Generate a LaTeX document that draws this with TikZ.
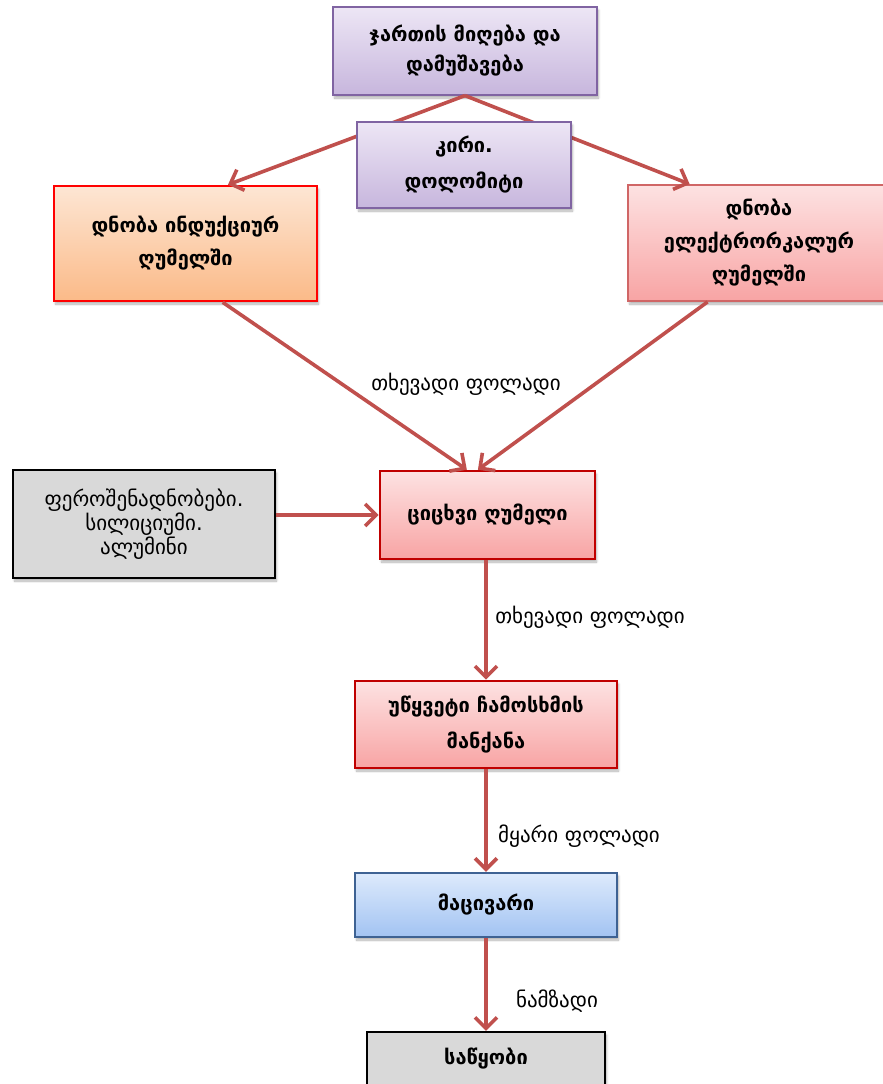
\documentclass[tikz,border=0pt]{standalone}
\usepackage{fontspec}
\setmainfont{DejaVu Sans}
\usetikzlibrary{arrows.meta,shadows.blur,calc}
\definecolor{arr}{HTML}{C0504D}
\definecolor{purpB}{HTML}{8064A2}
\definecolor{purpT}{HTML}{EDE6F5}
\definecolor{purpM}{HTML}{C7B6DD}
\definecolor{oranT}{HTML}{FDE6D4}
\definecolor{oranB}{HTML}{FBBA88}
\definecolor{pinkT}{HTML}{FDE2E2}
\definecolor{pinkB}{HTML}{F8A4A4}
\definecolor{pinkD}{HTML}{D06666}
\definecolor{darkred}{HTML}{C00000}
\definecolor{blueT}{HTML}{DDEAFC}
\definecolor{blueB}{HTML}{A2C3F2}
\definecolor{blueD}{HTML}{3E6293}
\definecolor{greyF}{HTML}{D9D9D9}
\begin{document}
\begin{tikzpicture}[x=1pt,y=-1pt,
  box/.style={rectangle, inner sep=0pt, align=center,
    blur shadow={shadow xshift=1.5pt, shadow yshift=-3pt, shadow opacity=30, shadow blur steps=6}},
  btxt/.style={font=\bfseries\fontsize{20}{#1}\selectfont},
  purple/.style={box, draw=purpB, line width=1.2pt, top color=purpT, bottom color=purpM},
  orange/.style={box, draw=red, line width=2.6pt, top color=oranT, bottom color=oranB},
  pinklt/.style={box, draw=pinkD, line width=1.8pt, top color=pinkT, bottom color=pinkB},
  pinkdk/.style={box, draw=darkred, line width=2.6pt, top color=pinkT, bottom color=pinkB},
  bluebox/.style={box, draw=blueD, line width=2.4pt, top color=blueT, bottom color=blueB},
  greybox/.style={box, draw=black, line width=2.2pt, fill=greyF},
  conn/.style={draw=arr, line width=3.6pt, -{Straight Barb[length=11pt,width=22pt,line width=3.6pt]}},
  lbl/.style={font=\fontsize{21}{24}\selectfont, inner sep=0pt}
]
\useasboundingbox (0,0) rectangle (883,1084);
\clip (0,0) rectangle (883,1084);

\node[purple, btxt=30, minimum width=264pt, minimum height=88pt] (b1) at (465,51) {ჯართის მიღება და\\დამუშავება};
\node[orange, btxt=33, minimum width=263pt, minimum height=115pt] (b3) at (185.5,243.5) {დნობა ინდუქციურ\\ღუმელში};
\node[pinklt, btxt=33, minimum width=262pt, minimum height=116pt] (b4) at (759,243) {დნობა\\ელექტრორკალურ\\ღუმელში};
\node[greybox, font=\fontsize{21}{24}\selectfont, minimum width=262pt, minimum height=108pt] (b5) at (144,524) {ფეროშენადნობები.\\სილიციუმი.\\ალუმინი};
\node[pinkdk, btxt=33, minimum width=215pt, minimum height=88pt] (b6) at (487.5,515) {ციცხვი ღუმელი};
\node[pinkdk, btxt=36, minimum width=262pt, minimum height=87pt] (b7) at (486,724.5) {უწყვეტი ჩამოსხმის\\მანქანა};
\node[bluebox, btxt=33, minimum width=262pt, minimum height=64pt] (b8) at (486,905) {მაცივარი};
\node[greybox, btxt=33, minimum width=238pt, minimum height=54pt] (b9) at (486,1059) {საწყობი};

\coordinate (t3) at ($(b3.north west)!0.66!(b3.north east)$);
\coordinate (t4) at ($(b4.north west)!0.237!(b4.north east)$);
\coordinate (s3) at ($(b3.south west)!0.64!(b3.south east)$);
\coordinate (s4) at ($(b4.south west)!0.305!(b4.south east)$);
\coordinate (n6a) at ($(b6.north west)!0.405!(b6.north east)$);
\coordinate (n6b) at ($(b6.north west)!0.456!(b6.north east)$);

\draw[conn] (b1.south) -- (t3);
\draw[conn] (b1.south) -- (t4);
\draw[conn] (s3) -- (n6a);
\draw[conn] (s4) -- (n6b);
\draw[conn] (b5.east |- b6.west) -- (b6.west);
\draw[conn] (b7.north |- b6.south) -- (b7.north);
\draw[conn] (b7.south) -- (b8.north);
\draw[conn] (b8.south) -- (b9.north);

\node[purple, btxt=36, minimum width=214pt, minimum height=86pt] (b2) at (464,165) {კირი.\\დოლომიტი};

\node[lbl] (l1) at (466,384) {თხევადი ფოლადი};
\node[lbl] (l2) at (590,617) {თხევადი ფოლადი};
\node[lbl] (l3) at (579,836) {მყარი ფოლადი};
\node[lbl] (l4) at (557,1001) {ნამზადი};
\end{tikzpicture}
\end{document}
